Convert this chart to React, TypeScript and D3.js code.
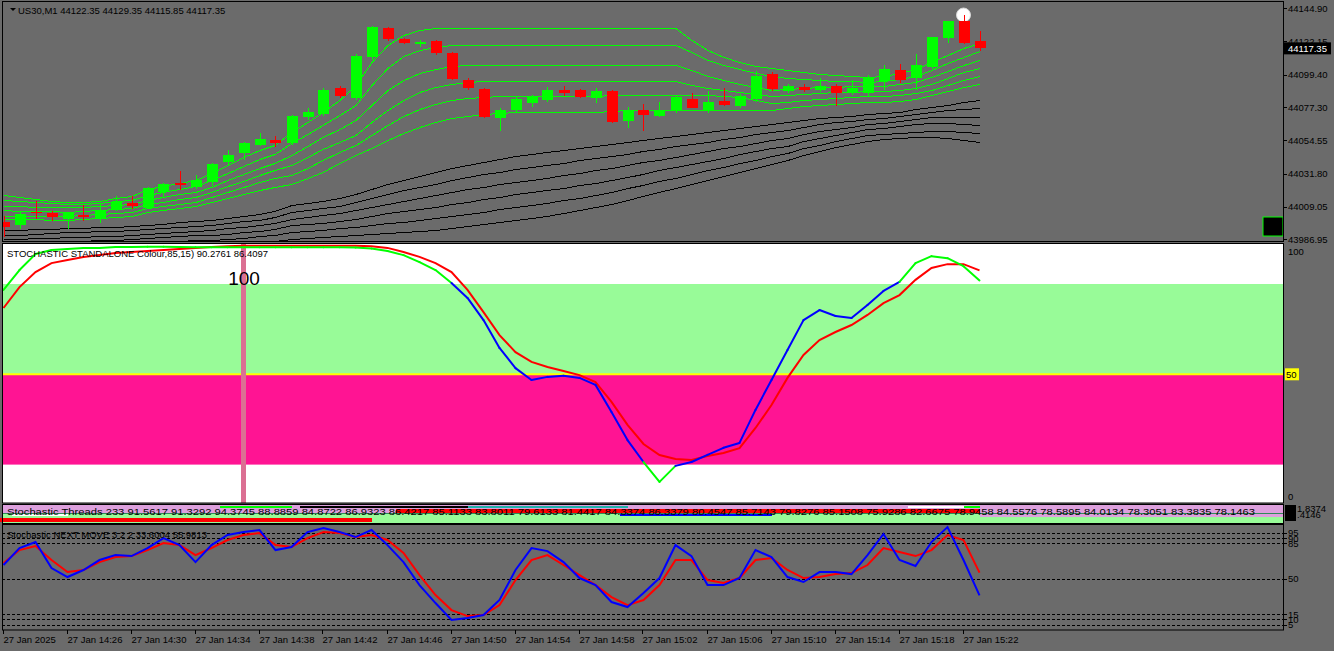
import * as d3 from "d3";
import { useEffect } from "react";

const FONT = "'Liberation Sans', Arial, sans-serif";

// bar times, 1 minute bars 14:22 .. 15:23
const timeLabels = [
  "27 Jan 2025", "27 Jan 14:26", "27 Jan 14:30", "27 Jan 14:34", "27 Jan 14:38",
  "27 Jan 14:42", "27 Jan 14:46", "27 Jan 14:50", "27 Jan 14:54", "27 Jan 14:58",
  "27 Jan 15:02", "27 Jan 15:06", "27 Jan 15:10", "27 Jan 15:14", "27 Jan 15:18", "27 Jan 15:22",
];
const timeLabelBars = [0, 4, 8, 12, 16, 20, 24, 28, 32, 36, 40, 44, 48, 52, 56, 60];

const priceTicks = [44144.9, 44122.15, 44099.4, 44077.3, 44054.55, 44031.8, 44009.05, 43986.95];

const opens = [
  43999.0, 43996.9, 44005.8, 44004.7, 44000.8, 44003.5, 44001.3, 44007.4, 44011.5, 44008.5,
  44019.5, 44025.6, 44022.9, 44025.9, 44039.5, 44045.7, 44051.1, 44054.8, 44052.7, 44070.5,
  44072.5, 44090.3, 44083.4, 44111.4, 44131.2, 44123.7, 44120.3, 44122.4, 44114.2, 44095.7,
  44089.6, 44069.8, 44075.3, 44080.0, 44082.1, 44088.9, 44088.9, 44083.7, 44088.2, 44067.7,
  44075.3, 44071.4, 44074.6, 44082.8, 44074.6, 44081.4, 44078.2, 44082.8, 44099.8, 44088.2,
  44091.0, 44088.9, 44091.6, 44086.9, 44086.9, 44095.1, 44102.6, 44097.3, 44104.8, 44124.6,
  44136.0, 44122.35,
];
const highs = [
  44002.9, 44006.3, 44013.1, 44006.3, 44005.6, 44010.4, 44011.7, 44016.5, 44016.5, 44022.7,
  44025.4, 44033.6, 44030.9, 44039.1, 44047.9, 44053.4, 44059.5, 44057.5, 44071.8, 44076.6,
  44090.3, 44091.6, 44113.5, 44132.6, 44131.9, 44124.4, 44123.0, 44123.1, 44114.9, 44097.1,
  44090.3, 44076.6, 44084.1, 44085.5, 44091.0, 44091.6, 44089.6, 44090.3, 44088.9, 44077.5,
  44079.3, 44080.7, 44085.5, 44087.1, 44088.2, 44090.1, 44086.2, 44101.9, 44101.2, 44093.0,
  44093.0, 44097.1, 44093.0, 44095.7, 44099.2, 44106.0, 44106.7, 44113.5, 44125.1, 44136.0,
  44140.1, 44129.35,
];
const lows = [
  43988.7, 43994.0, 44000.8, 43999.5, 43994.2, 43999.7, 43998.1, 44006.3, 44007.7, 44007.7,
  44015.8, 44020.6, 44021.3, 44023.4, 44037.7, 44041.1, 44050.7, 44050.0, 44051.4, 44068.4,
  44071.2, 44083.4, 44082.1, 44109.4, 44122.4, 44120.3, 44118.0, 44112.8, 44095.7, 44088.9,
  44069.8, 44060.9, 44073.2, 44077.3, 44080.7, 44084.8, 44083.4, 44079.8, 44066.4, 44063.2,
  44061.1, 44070.5, 44073.2, 44076.6, 44073.4, 44078.0, 44076.6, 44080.9, 44088.2, 44086.9,
  44087.5, 44087.5, 44078.0, 44085.5, 44084.8, 44088.9, 44093.7, 44088.9, 44103.2, 44121.0,
  44120.3, 44115.85,
];
const closes = [
  43995.6, 44004.2, 44004.7, 44002.4, 44004.7, 44002.2, 44007.0, 44012.4, 44009.7, 44021.8,
  44024.7, 44024.0, 44027.5, 44038.4, 44044.5, 44052.5, 44055.2, 44052.5, 44071.2, 44073.9,
  44088.9, 44084.8, 44112.1, 44131.9, 44123.7, 44121.0, 44121.5, 44114.2, 44096.4, 44090.3,
  44070.5, 44075.3, 44082.8, 44084.1, 44088.9, 44086.9, 44084.3, 44088.2, 44067.3, 44074.6,
  44071.8, 44075.3, 44084.3, 44076.8, 44080.7, 44078.7, 44084.8, 44098.5, 44089.4, 44091.6,
  44088.9, 44091.6, 44086.9, 44090.3, 44097.1, 44103.0, 44095.7, 44106.0, 44124.9, 44136.0,
  44121.2, 44117.35,
];

// green ribbon (6 lines)
const green1 = [
  44017.2, 44015.8, 44014.5, 44013.1, 44012.4, 44012.4, 44013.1, 44015.2, 44016.5, 44021.3,
  44023.4, 44025.4, 44027.5, 44032.2, 44037.7, 44043.2, 44048.0, 44051.4, 44060.2, 44067.1,
  44073.9, 44082.1, 44092.3, 44108.1, 44119.7, 44126.5, 44129.9, 44131.3, 44131.3, 44131.3,
  44131.3, 44131.3, 44131.3, 44131.3, 44131.3, 44131.3, 44131.3, 44131.3, 44131.3, 44131.3,
  44131.3, 44131.3, 44131.3, 44123.1, 44116.3, 44111.5, 44108.1, 44105.3, 44104.0, 44102.6,
  44101.2, 44099.9, 44099.2, 44098.5, 44097.8, 44098.5, 44100.5, 44103.3, 44108.1, 44112.8,
  44117.6, 44121.0,
];
const green2 = [
  44013.8, 44013.1, 44012.4, 44011.7, 44011.1, 44011.1, 44011.7, 44013.1, 44013.8, 44017.2,
  44019.3, 44021.3, 44023.4, 44027.5, 44032.2, 44037.0, 44041.8, 44045.2, 44052.7, 44058.9,
  44065.0, 44071.9, 44078.7, 44092.3, 44104.0, 44112.2, 44116.3, 44118.3, 44119.7, 44119.7,
  44119.7, 44119.7, 44119.7, 44119.7, 44119.7, 44119.7, 44119.7, 44119.7, 44119.7, 44119.7,
  44119.7, 44119.7, 44119.7, 44114.9, 44109.4, 44106.0, 44103.3, 44100.5, 44098.5, 44097.1,
  44096.4, 44095.8, 44095.1, 44095.1, 44094.4, 44095.1, 44096.4, 44098.5, 44102.6, 44107.4,
  44111.5, 44115.6,
];
const green3 = [
  44009.7, 44009.7, 44009.0, 44009.0, 44009.0, 44009.0, 44009.7, 44010.4, 44011.1, 44013.8,
  44015.8, 44017.9, 44019.3, 44022.7, 44027.5, 44031.6, 44035.7, 44039.1, 44044.5, 44050.7,
  44056.8, 44062.3, 44068.4, 44078.7, 44088.9, 44095.8, 44100.5, 44103.3, 44105.3, 44106.0,
  44106.0, 44106.0, 44106.0, 44106.0, 44106.0, 44106.0, 44106.0, 44106.0, 44106.0, 44106.0,
  44106.0, 44106.0, 44106.0, 44102.6, 44098.5, 44095.8, 44093.0, 44091.0, 44088.9, 44089.6,
  44090.3, 44091.0, 44091.0, 44091.7, 44091.7, 44091.7, 44093.0, 44094.4, 44097.8, 44101.9,
  44106.0, 44109.4,
];
const green4 = [
  44007.0, 44006.3, 44006.3, 44006.3, 44005.6, 44006.3, 44007.0, 44007.7, 44008.3, 44011.1,
  44012.4, 44014.5, 44015.8, 44019.3, 44023.4, 44026.8, 44030.9, 44034.3, 44037.7, 44043.2,
  44048.6, 44053.4, 44058.2, 44067.1, 44075.3, 44082.1, 44087.6, 44091.0, 44093.0, 44094.4,
  44095.1, 44095.1, 44095.1, 44095.1, 44095.1, 44095.1, 44095.1, 44095.1, 44095.1, 44095.1,
  44095.1, 44095.1, 44095.1, 44092.3, 44090.3, 44088.9, 44087.6, 44086.2, 44084.8, 44085.5,
  44086.2, 44086.9, 44087.6, 44087.6, 44088.2, 44088.2, 44088.9, 44090.3, 44093.0, 44097.1,
  44101.2, 44104.0,
];
const green5 = [
  44002.9, 44002.9, 44002.9, 44002.9, 44002.9, 44003.6, 44004.2, 44004.9, 44005.6, 44008.3,
  44009.7, 44011.1, 44012.4, 44015.8, 44019.3, 44022.7, 44026.1, 44028.8, 44030.9, 44035.7,
  44041.1, 44046.6, 44051.4, 44058.2, 44065.0, 44071.2, 44076.0, 44079.4, 44082.1, 44083.5,
  44084.2, 44084.8, 44084.8, 44084.8, 44084.8, 44084.8, 44084.8, 44084.8, 44085.5, 44085.5,
  44085.5, 44085.5, 44085.5, 44085.5, 44085.5, 44084.8, 44084.2, 44082.1, 44080.1, 44080.7,
  44082.1, 44082.8, 44083.5, 44084.2, 44084.8, 44084.8, 44085.5, 44086.9, 44088.9, 44092.3,
  44095.8, 44098.5,
];
const green6 = [
  44000.8, 44000.8, 44000.8, 44000.1, 44000.1, 44000.8, 44001.5, 44002.2, 44002.9, 44005.6,
  44007.0, 44008.3, 44009.7, 44012.4, 44015.2, 44017.9, 44020.6, 44022.7, 44024.7, 44028.8,
  44032.9, 44039.1, 44044.5, 44049.3, 44054.8, 44059.6, 44063.7, 44067.1, 44069.8, 44071.2,
  44072.5, 44073.2, 44073.9, 44073.9, 44073.9, 44073.9, 44073.9, 44073.9, 44074.6, 44075.3,
  44075.3, 44075.3, 44075.3, 44075.3, 44075.3, 44075.3, 44075.3, 44075.3, 44075.3, 44076.6,
  44078.0, 44078.7, 44079.4, 44080.1, 44080.7, 44080.7, 44081.4, 44082.8, 44085.5, 44088.2,
  44091.0, 44093.0,
];
// black ribbon (6 lines)
const black1 = [
  43993.3, 43993.3, 43994.0, 43994.0, 43994.7, 43994.7, 43995.4, 43995.4, 43996.0, 43996.7,
  43997.4, 43998.8, 43999.5, 44000.1, 44001.5, 44002.9, 44004.2, 44006.3, 44010.4, 44011.7,
  44013.1, 44015.2, 44017.9, 44021.3, 44024.7, 44027.5, 44030.2, 44032.9, 44035.7, 44037.7,
  44039.8, 44041.8, 44043.9, 44045.2, 44046.6, 44048.0, 44049.3, 44050.7, 44052.1, 44053.4,
  44054.8, 44056.1, 44057.5, 44058.9, 44060.2, 44061.6, 44063.0, 44064.3, 44065.7, 44067.1,
  44068.4, 44069.8, 44070.5, 44071.2, 44072.5, 44073.2, 44073.9, 44076.0, 44077.3, 44078.7,
  44080.7, 44082.1,
];
const black2 = [
  43990.2, 43990.2, 43990.9, 43991.0, 43991.7, 43991.7, 43992.4, 43992.4, 43993.0, 43993.7,
  43994.4, 43995.5, 43996.2, 43996.7, 43997.9, 43999.2, 44000.4, 44002.2, 44005.8, 44006.9,
  44008.2, 44010.0, 44012.3, 44015.2, 44018.0, 44020.4, 44022.7, 44025.0, 44027.5, 44029.4,
  44031.3, 44033.2, 44035.1, 44036.5, 44037.9, 44039.4, 44040.8, 44042.4, 44043.9, 44045.5,
  44047.1, 44048.7, 44050.4, 44052.1, 44053.7, 44055.3, 44057.0, 44058.6, 44060.2, 44061.6,
  44063.7, 44065.7, 44067.1, 44067.8, 44069.1, 44069.8, 44071.2, 44072.5, 44073.9, 44075.3,
  44076.0, 44076.6,
];
const black3 = [
  43987.0, 43987.0, 43987.7, 43988.0, 43988.7, 43988.7, 43989.4, 43989.4, 43990.0, 43990.7,
  43991.4, 43992.2, 43992.9, 43993.3, 43994.4, 43995.5, 43996.6, 43998.1, 44001.1, 44002.1,
  44003.3, 44004.8, 44006.7, 44009.0, 44011.3, 44013.2, 44015.2, 44017.1, 44019.3, 44021.0,
  44022.8, 44024.6, 44026.4, 44027.7, 44029.1, 44030.8, 44032.4, 44034.0, 44035.7, 44037.6,
  44039.5, 44041.4, 44043.3, 44045.2, 44047.1, 44049.0, 44050.9, 44052.9, 44054.8, 44056.1,
  44058.9, 44060.9, 44062.3, 44063.7, 44065.7, 44066.4, 44067.8, 44069.1, 44070.5, 44070.5,
  44070.5, 44070.5,
];
const black4 = [
  43983.9, 43983.9, 43984.6, 43985.0, 43985.7, 43985.7, 43986.3, 43986.3, 43987.0, 43987.7,
  43988.4, 43989.0, 43989.7, 43989.9, 43990.8, 43991.8, 43992.7, 43994.0, 43996.5, 43997.4,
  43998.4, 43999.6, 44001.1, 44002.9, 44004.7, 44006.1, 44007.6, 44009.1, 44011.1, 44012.7,
  44014.4, 44016.0, 44017.6, 44019.0, 44020.4, 44022.1, 44023.9, 44025.7, 44027.5, 44029.6,
  44031.8, 44034.0, 44036.2, 44038.4, 44040.6, 44042.8, 44044.9, 44047.1, 44049.3, 44050.7,
  44054.1, 44056.1, 44058.2, 44060.2, 44062.3, 44063.0, 44064.3, 44065.7, 44066.4, 44066.4,
  44065.7, 44065.0,
];
const black5 = [
  43980.7, 43980.7, 43981.4, 43982.0, 43982.7, 43982.7, 43983.3, 43983.3, 43984.0, 43984.7,
  43985.4, 43985.7, 43986.4, 43986.5, 43987.3, 43988.1, 43988.9, 43989.9, 43991.8, 43992.6,
  43993.4, 43994.4, 43995.5, 43996.7, 43998.0, 43999.0, 44000.1, 44001.2, 44002.9, 44004.3,
  44005.9, 44007.4, 44008.9, 44010.2, 44011.6, 44013.5, 44015.5, 44017.3, 44019.3, 44021.7,
  44024.2, 44026.7, 44029.1, 44031.5, 44034.0, 44036.5, 44038.9, 44041.4, 44043.9, 44045.9,
  44049.3, 44051.4, 44054.1, 44056.1, 44058.2, 44058.9, 44059.6, 44060.2, 44060.9, 44060.9,
  44060.2, 44059.6,
];
const black6 = [
  43977.6, 43977.6, 43978.3, 43979.0, 43979.7, 43979.7, 43980.3, 43980.3, 43981.0, 43981.7,
  43982.4, 43982.4, 43983.1, 43983.1, 43983.7, 43984.4, 43985.1, 43985.8, 43987.2, 43987.8,
  43988.5, 43989.2, 43989.9, 43990.6, 43991.3, 43991.9, 43992.6, 43993.3, 43994.7, 43996.0,
  43997.4, 43998.8, 44000.1, 44001.5, 44002.9, 44004.9, 44007.0, 44009.0, 44011.1, 44013.8,
  44016.5, 44019.3, 44022.0, 44024.7, 44027.5, 44030.2, 44032.9, 44035.7, 44038.4, 44041.1,
  44044.5, 44047.3, 44050.0, 44052.1, 44054.1, 44055.5, 44056.1, 44056.8, 44056.8, 44056.1,
  44054.8, 44053.4,
];

const stochMain = [
  82.7, 90.4, 96.6, 98.2, 98.6, 99.0, 99.0, 99.3, 99.3, 99.4,
  99.4, 99.3, 99.2, 99.2, 99.2, 99.2, 99.2, 99.2, 99.2, 99.2,
  99.2, 99.2, 99.1, 98.8, 97.8, 96.2, 93.5, 90.4, 85.4, 79.6,
  71.0, 60.2, 52.4, 47.8, 49.0, 49.4, 48.6, 45.9, 35.4, 24.5,
  16.0, 8.3, 14.5, 16.0, 18.8, 21.5, 23.4, 36.2, 47.8, 59.4,
  71.0, 74.9, 72.6, 71.8, 76.9, 82.3, 85.8, 93.1, 95.8, 95.0,
  91.9, 86.4,
];
const stochSignal = [
  75.7, 83.8, 89.6, 93.1, 94.3, 95.5, 96.2, 97.0, 97.4, 97.8,
  98.2, 98.6, 99.0, 99.3, 99.6, 99.8, 99.8, 99.8, 99.8, 99.8,
  99.8, 99.8, 99.8, 99.6, 99.0, 97.4, 95.5, 93.1, 89.6, 82.7,
  74.1, 65.2, 58.6, 54.8, 52.8, 51.3, 49.7, 47.0, 39.3, 30.4,
  23.0, 18.7, 17.2, 16.8, 18.3, 19.5, 21.4, 29.2, 38.1, 48.6,
  57.5, 63.3, 66.4, 69.1, 73.0, 77.6, 80.7, 86.6, 91.2, 92.7,
  92.7, 90.3,
];
const stochZones = [85, 50, 15];

const nextBlue = [
  63.5, 80.2, 86.1, 60.5, 51.7, 58.6, 68.4, 73.3, 72.3, 80.2,
  90.0, 83.1, 66.4, 83.1, 93.0, 95.9, 97.9, 78.2, 81.2, 95.9,
  99.9, 95.9, 91.0, 97.9, 83.1, 66.4, 43.8, 26.1, 9.4, 11.4,
  14.3, 29.1, 58.6, 80.2, 77.2, 66.4, 50.7, 43.8, 27.1, 22.2,
  36.0, 50.7, 83.1, 72.3, 43.8, 43.8, 50.7, 78.2, 71.3, 51.7,
  46.8, 56.6, 56.6, 54.6, 73.3, 94.0, 68.4, 62.5, 86.1, 100.8,
  68.4, 33.6,
];
const nextRed = [
  65.4, 78.2, 82.1, 68.4, 56.6, 58.6, 66.4, 71.3, 72.3, 78.2,
  85.1, 83.1, 73.3, 80.2, 88.1, 93.0, 94.9, 83.1, 81.2, 90.0,
  95.9, 94.9, 91.0, 93.0, 88.1, 75.3, 53.6, 34.0, 19.2, 13.3,
  14.3, 24.1, 48.7, 68.4, 73.3, 63.5, 53.6, 43.8, 32.0, 24.1,
  29.1, 43.8, 68.4, 68.4, 48.7, 45.8, 50.7, 68.4, 70.4, 58.6,
  50.7, 51.7, 54.6, 55.6, 63.5, 80.2, 76.3, 72.3, 78.2, 93.0,
  88.1, 56.0,
];
const nextLevels = [95, 90, 85, 50, 15, 10, 5];

const threadsText =
  "Stochastic Threads 233 91.5617 91.3292 94.3745 88.8859 84.8722 86.9323 86.4217 85.1133 83.8011 79.6133 81.4417 84.3374 86.3379 80.4547 85.7143 79.8276 85.1508 75.9286 82.6675 78.9458 84.5576 78.5895 84.0134 78.3051 83.3835 78.1463";

// thread strips: [first bar, last bar, row, colour]
const threadStrips: [number, number, number, string][] = [
  [0, 23, 3, "#ff0000"],
  [25, 61, 1, "#ff0000"],
  [29, 39, 0, "#20b2aa"],
  [14, 18, 0, "#00ff00"],
  [19, 29, 0, "#000000"],
  [39, 48, 2, "#0000ff"],
  [58, 61, 0, "#00ff00"],
  [57, 60, 0, "#ffffff"],
  [1, 4, 2, "#ffffff"],
];

const greenLines = [green1, green2, green3, green4, green5, green6];
const blackLines = [black1, black2, black3, black4, black5, black6];

export default function App() {
  useEffect(() => {
    document.body.style.margin = "0";
  }, []);

  const x = d3.scaleLinear().domain([0, 61]).range([3.5, 979.5]);
  const yP = d3.scaleLinear().domain([43985.8, 44149.0]).range([241, 2]);
  const yS = d3.scaleLinear().domain([0, 100]).range([503.3, 245.3]);
  const yN = d3.scaleLinear().domain([0, 100]).range([629.6, 527.9]);
  const rowY = [506, 509, 514, 518];
  const rowH = [2, 4, 2, 4];

  const idx = d3.range(opens.length);
  const priceLine = (arr: number[]) =>
    d3.line<number>().x((i) => Math.round(x(i))).y((i) => Math.round(yP(arr[i])) + 0.5)(idx) ?? "";
  const sigLine = d3.line<number>().x((i) => x(i)).y((i) => yS(stochSignal[i]));
  const nBlue = d3.line<number>().x((i) => x(i)).y((i) => yN(nextBlue[i]));
  const nRed = d3.line<number>().x((i) => x(i)).y((i) => yN(nextRed[i]));

  const mainSegs = idx.slice(0, -1).map((i) => {
    const m = (stochMain[i] + stochMain[i + 1]) / 2;
    const c = m > 85 || m < 15 ? "#00ff00" : "#0000ff";
    return { i, c };
  });

  const last = closes[closes.length - 1];

  return (
    <svg width={1334} height={651} style={{ display: "block", background: "#6b6b6b" }} fontFamily={FONT}>
      <defs>
        <clipPath id="c1"><rect x={2} y={2} width={1281} height={239} /></clipPath>
        <clipPath id="c2"><rect x={2} y={244} width={1281} height={259} /></clipPath>
        <clipPath id="c4"><rect x={2} y={525} width={1281} height={105} /></clipPath>
      </defs>

      {/* price panel */}
      <g clipPath="url(#c1)">
        <g fill="none" strokeWidth={1} shapeRendering="crispEdges">
          {blackLines.map((arr, k) => (
            <path key={"b" + k} d={priceLine(arr)} stroke="#000000" />
          ))}
          {greenLines.map((arr, k) => (
            <path key={"g" + k} d={priceLine(arr)} stroke="#00ff00" />
          ))}
        </g>
        <circle cx={x(60)} cy={yP(44140.1)} r={7} fill="#ffffff" stroke="#d8d8d8" />
        {idx.map((i) => {
          const up = closes[i] >= opens[i];
          const col = up ? "#00ff00" : "#ff0000";
          const top = yP(Math.max(opens[i], closes[i]));
          const bot = yP(Math.min(opens[i], closes[i]));
          return (
            <g key={i} shapeRendering="crispEdges">
              <rect x={Math.round(x(i)) - 0.5} y={yP(highs[i])} width={1} height={yP(lows[i]) - yP(highs[i])} fill={col} />
              <rect x={Math.round(x(i)) - 5.5} y={top} width={11} height={Math.max(1, bot - top)} fill={col} />
            </g>
          );
        })}
      </g>
      <rect x={1263} y={217} width={20} height={19} fill="#000" stroke="#00ff00" />
      <rect x={2.5} y={1.5} width={1281} height={240} fill="none" stroke="#000" />
      <path d="M10,8 L16,8 L13,11 Z" fill="#000" />
      <text x={18} y={14} fontSize={9.5} fill="#000">{"US30,M1  44122.35 44129.35 44115.85 44117.35"}</text>
      {priceTicks.map((p) => (
        <g key={p}>
          <line x1={1283} x2={1287} y1={Math.round(yP(p)) + 0.5} y2={Math.round(yP(p)) + 0.5} stroke="#000" />
          <text x={1288} y={yP(p) + 3.5} fontSize={9.5} fill="#000">{p.toFixed(2)}</text>
        </g>
      ))}
      <rect x={1284} y={yP(last) - 6} width={47} height={12} fill="#000" />
      <text x={1288} y={yP(last) + 3.5} fontSize={9.5} fill="#fff">{last.toFixed(2)}</text>

      {/* stochastic standalone */}
      <rect x={2} y={244} width={1281} height={259} fill="#ffffff" />
      <rect x={2} y={yS(stochZones[0])} width={1281} height={yS(stochZones[1]) - yS(stochZones[0])} fill="#98fb98" />
      <rect x={2} y={yS(stochZones[1])} width={1281} height={yS(stochZones[2]) - yS(stochZones[1])} fill="#ff1493" />
      <line x1={2} x2={1283} y1={yS(50)} y2={yS(50)} stroke="#ffff00" strokeWidth={2} />
      <rect x={241} y={244} width={5} height={259} fill="#db7093" />
      <g clipPath="url(#c2)" fill="none" strokeWidth={2}>
        <path d={sigLine(idx) ?? ""} stroke="#ff0000" />
        {mainSegs.map((s) => (
          <line key={s.i} x1={x(s.i)} y1={yS(stochMain[s.i])} x2={x(s.i + 1)} y2={yS(stochMain[s.i + 1])} stroke={s.c} strokeLinecap="round" />
        ))}
      </g>
      <text x={244} y={285} fontSize={19} textAnchor="middle" fill="#000">100</text>
      <text x={7} y={256.5} fontSize={9.5} fill="#000">{"STOCHASTIC STANDALONE Colour,85,15) 90.2761 86.4097"}</text>
      <rect x={2.5} y={243.5} width={1281} height={259.5} fill="none" stroke="#000" />
      <text x={1288} y={255} fontSize={9.5} fill="#000">100</text>
      <rect x={1285} y={yS(50) - 6} width={14} height={12} fill="#ffff00" />
      <text x={1286} y={yS(50) + 3.5} fontSize={9.5} fill="#000">50</text>
      <text x={1288} y={500} fontSize={9.5} fill="#000">0</text>

      {/* stochastic threads */}
      <g shapeRendering="crispEdges">
        <rect x={2} y={505} width={1281} height={8} fill="#dda0dd" />
        <rect x={2} y={513} width={1281} height={1} fill="#2e8b57" />
        <rect x={2} y={514} width={1281} height={3} fill="#dda0dd" />
        <rect x={2} y={517} width={1281} height={6} fill="#98fb98" />
        <rect x={2} y={514} width={x(61) - 2} height={3} fill="#98fb98" />
        {threadStrips.map(([a, b, r, c], k) => (
          <rect key={k} x={x(a) - 8} y={rowY[r]} width={x(b) - x(a) + 8} height={rowH[r]} fill={c} />
        ))}
      </g>
      <text x={7} y={515} fontSize={9.5} fill="#000" textLength={1248} lengthAdjust="spacingAndGlyphs">{threadsText}</text>
      <rect x={2.5} y={504.5} width={1281} height={19} fill="none" stroke="#000" />
      <rect x={1285} y={505} width={11} height={16} fill="#000" />
      <text x={1297} y={512} fontSize={9.5} fill="#000">1.8374</text>
      <text x={1297} y={518} fontSize={9.5} fill="#000">.4146</text>

      {/* stochastic next move */}
      {nextLevels.map((l) => (
        <g key={l}>
          <line x1={2} x2={1283} y1={Math.round(yN(l)) + 0.5} y2={Math.round(yN(l)) + 0.5} stroke="#000" strokeDasharray="3,2" />
          <line x1={1283} x2={1287} y1={Math.round(yN(l)) + 0.5} y2={Math.round(yN(l)) + 0.5} stroke="#000" />
          <text x={1288} y={yN(l) + 3.5} fontSize={9.5} fill="#000">{l}</text>
        </g>
      ))}
      <g clipPath="url(#c4)" fill="none" strokeWidth={2}>
        <path d={nRed(idx) ?? ""} stroke="#ff0000" />
        <path d={nBlue(idx) ?? ""} stroke="#0000ff" />
      </g>
      <text x={7} y={537.5} fontSize={9.5} fill="#000">{"Stochastic NEXT MOVE 3 2 2 33.6004 55.9813"}</text>
      <rect x={2.5} y={524.5} width={1281} height={105.5} fill="none" stroke="#000" />

      {/* time axis */}
      {timeLabels.map((t, k) => {
        const tx = Math.round(x(timeLabelBars[k])) - 0.5;
        return (
          <g key={t}>
            <line x1={tx} x2={tx} y1={630} y2={634} stroke="#000" />
            <text x={tx} y={643} fontSize={9.5} fill="#000">{t}</text>
          </g>
        );
      })}
    </svg>
  );
}
